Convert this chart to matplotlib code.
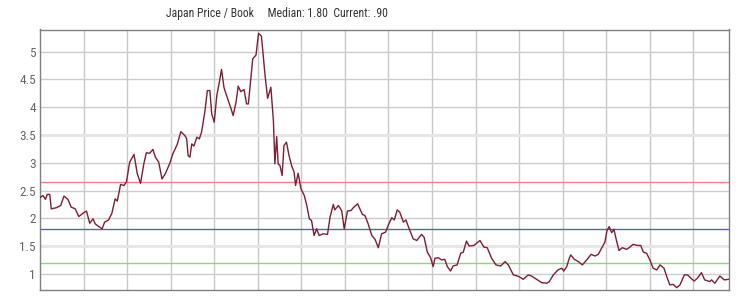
import matplotlib
matplotlib.use("Agg")
import matplotlib.pyplot as plt
from matplotlib import font_manager

# ── data: months since start, price/book ───────────────────────────────────
months = [
    0.0, 0.8, 1.5, 2.0, 2.7, 3.1, 4.5, 5.7, 6.6, 7.7, 8.6, 9.7, 10.7, 11.8,
    12.8, 13.7, 14.6, 15.2, 16.2, 17.1, 17.8, 18.9, 19.8, 20.7, 21.3, 22.2,
    23.1, 23.8, 24.7, 25.9, 26.8, 27.7, 28.6, 29.3, 30.2, 31.1, 31.8, 32.7,
    33.6, 34.5, 35.7, 36.6, 37.8, 38.8, 39.9, 40.4, 40.8, 41.3, 41.8, 42.4,
    43.2, 43.9, 44.5, 45.4, 46.1, 46.8, 47.3, 48.0, 48.7, 49.4, 50.0, 50.7,
    51.4, 52.5, 53.2, 54.0, 54.6, 55.3, 56.2, 56.9, 57.4, 57.8, 58.6, 59.5,
    60.2, 61.0, 62.0, 62.7, 63.6, 64.3, 64.7, 65.2, 65.6, 66.1, 66.7, 67.2,
    67.9, 68.6, 69.3, 70.0, 70.4, 71.1, 71.9, 72.8, 73.5, 74.2, 74.8, 75.5,
    76.2, 76.9, 78.0, 79.2, 79.9, 80.8, 81.2, 82.2, 83.1, 83.8, 84.7, 85.7,
    86.3, 87.5, 88.8, 89.5, 90.4, 91.4, 92.3, 93.2, 94.1, 95.2, 96.1, 96.9,
    97.6, 98.4, 99.1, 100.1, 100.8, 101.7, 102.8, 103.8, 105.1, 105.8, 106.7,
    107.6, 108.3, 108.8, 109.7, 110.6, 111.5, 112.2, 113.1, 113.8, 114.9,
    115.9, 116.6, 117.5, 118.2, 119.5, 121.2, 122.3, 123.2, 124.4, 125.6,
    126.9, 128.1, 129.0, 130.4, 131.5, 132.2, 133.1, 134.5, 135.4, 136.8,
    138.2, 139.6, 140.3, 141.4, 142.7, 143.7, 144.3, 145.1, 145.8, 146.2,
    147.2, 148.3, 149.4, 150.6, 151.8, 152.9, 153.8, 154.7, 155.6, 156.2,
    156.8, 157.5, 158.1, 158.8, 159.5, 160.4, 161.6, 162.5, 163.4, 164.6,
    165.5, 166.2, 167.1, 168.0, 168.9, 169.9, 170.8, 171.9, 172.6, 173.5,
    174.4, 175.4, 176.3, 177.5, 178.4, 179.3, 180.2, 181.1, 182.2, 183.1,
    184.5, 185.0, 185.9, 187.3, 188.5, 189.7,
]
pb = [
    2.37, 2.41, 2.34, 2.43, 2.43, 2.17, 2.19, 2.23, 2.40, 2.34, 2.20, 2.17, 2.03, 2.09,
    2.13, 1.91, 1.99, 1.90, 1.85, 1.81, 1.93, 1.97, 2.09, 2.35, 2.31, 2.61,
    2.59, 2.65, 3.01, 3.15, 2.80, 2.63, 2.98, 3.18, 3.17, 3.24, 3.10, 3.01,
    2.71, 2.80, 2.98, 3.16, 3.33, 3.56, 3.49, 3.43, 3.13, 3.10, 3.34, 3.30,
    3.46, 3.43, 3.55, 3.91, 4.30, 4.30, 3.88, 3.73, 4.21, 4.45, 4.68, 4.35,
    4.21, 4.00, 3.85, 4.09, 4.38, 4.28, 4.32, 4.06, 4.06, 4.33, 4.87, 4.94,
    5.33, 5.28, 4.57, 4.16, 4.36, 3.75, 2.98, 3.47, 2.98, 2.95, 2.77, 3.31,
    3.37, 3.13, 2.95, 2.83, 2.59, 2.81, 2.53, 2.41, 2.23, 1.99, 1.96, 1.69,
    1.81, 1.69, 1.72, 1.71, 2.02, 2.25, 2.15, 2.23, 2.14, 1.81, 2.13, 2.14,
    2.19, 2.26, 2.07, 2.05, 1.90, 1.69, 1.62, 1.47, 1.72, 1.75, 1.90, 2.01,
    1.97, 2.15, 2.11, 1.93, 1.97, 1.81, 1.63, 1.60, 1.71, 1.66, 1.39,
    1.29, 1.13, 1.28, 1.29, 1.25, 1.26, 1.13, 1.05, 1.14, 1.16,
    1.37, 1.39, 1.59, 1.50, 1.51, 1.60, 1.48, 1.47, 1.28, 1.16,
    1.14, 1.22, 1.16, 0.98, 0.96, 0.94, 0.90, 0.98, 0.96, 0.90,
    0.84, 0.83, 0.86, 0.98, 1.07, 1.10, 1.05, 1.13, 1.28, 1.34,
    1.26, 1.22, 1.16, 1.25, 1.35, 1.32, 1.35, 1.46, 1.57, 1.78,
    1.85, 1.74, 1.80, 1.60, 1.42, 1.47, 1.44, 1.48, 1.53, 1.51,
    1.51, 1.39, 1.37, 1.25, 1.10, 1.07, 1.16, 1.10, 0.96, 0.80,
    0.81, 0.75, 0.80, 0.98, 0.98, 0.92, 0.87, 0.92, 1.02, 0.89,
    0.86, 0.89, 0.83, 0.96, 0.89, 0.90,
]
upper, median, lower = 2.65, 1.80, 1.20
yticks = [1, 1.5, 2, 2.5, 3, 3.5, 4, 4.5, 5]
ytick_labels = ["1", "1.5", "2", "2.5", "3", "3.5", "4", "4.5", "5"]
year_marks = list(range(12, 181, 12))
title = "Japan Price / Book     Median: 1.80  Current: .90"

# condensed face if one is installed, else plain Liberation Sans
names = {f.name for f in font_manager.fontManager.ttflist}
narrow = [n for n in ("Roboto Condensed", "Liberation Sans Narrow", "Arial Narrow") if n in names]
face = narrow[0] if narrow else "Liberation Sans"
plt.rcParams["font.family"] = [face, "DejaVu Sans"]

fig = plt.figure(figsize=(7.4, 3.0), dpi=100)
ax = fig.add_axes([40 / 740, 10 / 300, 689 / 740, 260.5 / 300])

# grid
for m in year_marks:
    ax.axvline(m, color="#c8c8c8", lw=1.0, zorder=1)
for t in yticks:
    if t in (1.5, 3.5):
        ax.axhline(t, color="#e6e6e6", lw=2.2, zorder=1)
    else:
        ax.axhline(t, color="#cccccc", lw=1.0, zorder=1)

ax.axhline(upper, color="#f08080", lw=1.0, zorder=2)
ax.axhline(median, color="#5a64b4", lw=1.0, zorder=2)
ax.axhline(lower, color="#88d888", lw=1.0, zorder=2)

ax.plot(months, pb, color="#7d1e34", lw=1.0, zorder=3)

ax.set_xlim(0, 189.8)
ax.set_ylim(0.708, 5.40)
ax.set_xticks([])
ax.set_yticks(yticks)
ax.set_yticklabels(ytick_labels)
ax.tick_params(axis="y", length=0, pad=3, labelsize=9.5 if narrow else 9,
               labelcolor="#666666")
for s in ax.spines.values():
    s.set_color("#808080")
    s.set_linewidth(1.0)

fs = 8.5 if narrow else 8
fig.text(166 / 740, 1 - 13 / 300, title, ha="left", va="center",
         fontsize=fs, color="#333333")

fig.savefig("out.png", dpi=100)
